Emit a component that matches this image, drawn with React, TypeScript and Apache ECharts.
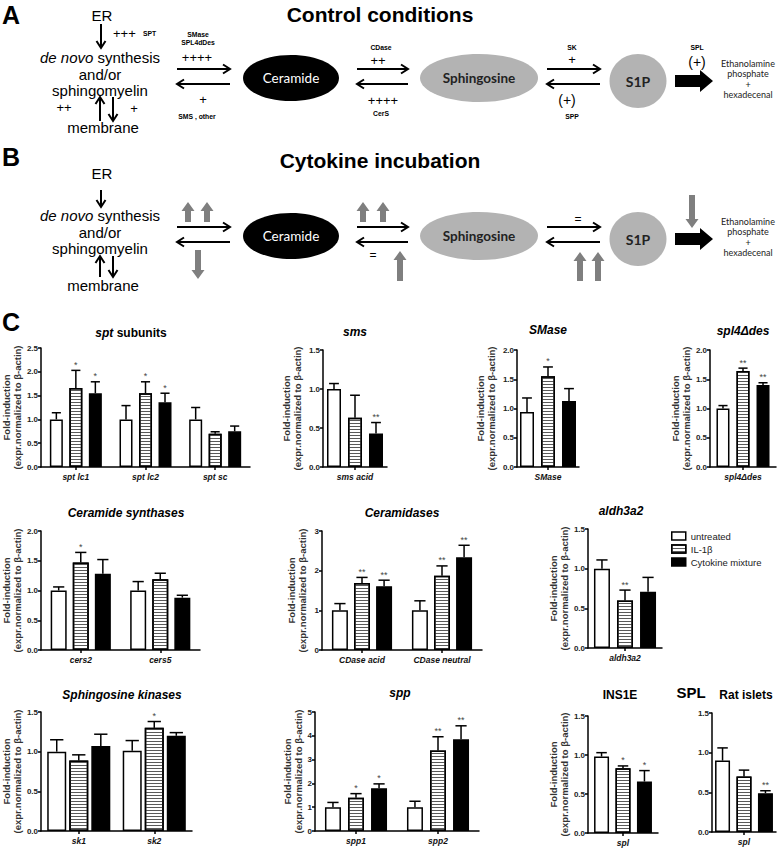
import React, { useEffect, useRef } from "react";
import * as echarts from "echarts";

const SANS = "'Liberation Sans', Arial, sans-serif";
const CAL = "Lato, 'Open Sans', sans-serif";

const groupNames = ["untreated", "IL-1β", "Cytokine mixture"];

// ---- data (rows: untreated, IL-1β, Cytokine mixture) ----
const sptCategories = ["spt lc1", "spt lc2", "spt sc"];
const sptMeans = [[1.0, 1.0, 1.0], [1.66, 1.55, 0.70], [1.55, 1.36, 0.75]];
const sptSems = [[0.14, 0.29, 0.25], [0.37, 0.24, 0.04], [0.24, 0.19, 0.11]];
const sptSig = [["", "", ""], ["*", "*", ""], ["*", "*", ""]];
const sptTicks = [0, 0.5, 1, 1.5, 2, 2.5];

const smsCategories = ["sms acid"];
const smsMeans = [[1.0], [0.63], [0.43]];
const smsSems = [[0.07], [0.29], [0.14]];
const smsSig = [[""], [""], ["**"]];
const smsTicks = [0, 0.5, 1, 1.5];

const smaseCategories = ["SMase"];
const smaseMeans = [[0.94], [1.55], [1.13]];
const smaseSems = [[0.24], [0.16], [0.21]];
const smaseSig = [[""], ["*"], [""]];
const smaseTicks = [0, 0.5, 1, 1.5, 2];

const spl4Categories = ["spl4Δdes"];
const spl4Means = [[1.0], [1.64], [1.40]];
const spl4Sems = [[0.05], [0.05], [0.04]];
const spl4Sig = [[""], ["**"], ["**"]];
const spl4Ticks = [0, 0.5, 1, 1.5, 2];

const cersCategories = ["cers2", "cers5"];
const cersMeans = [[1.0, 1.0], [1.47, 1.19], [1.28, 0.88]];
const cersSems = [[0.06, 0.15], [0.17, 0.10], [0.24, 0.04]];
const cersSig = [["", ""], ["*", ""], ["", ""]];
const cersTicks = [0, 0.5, 1, 1.5, 2];

const cdaseCategories = ["CDase acid", "CDase neutral"];
const cdaseMeans = [[1.0, 1.0], [1.69, 1.87], [1.61, 2.34]];
const cdaseSems = [[0.17, 0.24], [0.14, 0.25], [0.15, 0.30]];
const cdaseSig = [["", ""], ["**", "**"], ["**", "**"]];
const cdaseTicks = [0, 1, 2, 3];

const aldhCategories = ["aldh3a2"];
const aldhMeans = [[1.0], [0.60], [0.71]];
const aldhSems = [[0.11], [0.13], [0.18]];
const aldhSig = [[""], ["**"], [""]];
const aldhTicks = [0, 0.5, 1, 1.5];

const skCategories = ["sk1", "sk2"];
const skMeans = [[1.0, 1.01], [0.89, 1.30], [1.07, 1.20]];
const skSems = [[0.15, 0.13], [0.07, 0.08], [0.15, 0.04]];
const skSig = [["", ""], ["", "*"], ["", ""]];
const skTicks = [0, 0.5, 1, 1.5];

const sppCategories = ["spp1", "spp2"];
const sppMeans = [[1.0, 1.0], [1.40, 3.38], [1.80, 3.85]];
const sppSems = [[0.20, 0.25], [0.17, 0.58], [0.18, 0.57]];
const sppSig = [["", ""], ["*", "**"], ["*", "**"]];
const sppTicks = [0, 1, 2, 3, 4, 5];

const insCategories = ["spl"];
const insMeans = [[0.98], [0.83], [0.66]];
const insSems = [[0.05], [0.03], [0.14]];
const insSig = [[""], ["*"], ["*"]];
const insTicks = [0, 0.5, 1, 1.5];

const ratCategories = ["spl"];
const ratMeans = [[0.90], [0.70], [0.49]];
const ratSems = [[0.16], [0.08], [0.03]];
const ratSig = [[""], [""], ["**"]];
const ratTicks = [0, 0.5, 1, 1.5];

const panels = [
  { key: "spt", title: "{i|spt}{n| subunits}", cats: sptCategories, means: sptMeans, sems: sptSems, sig: sptSig, ticks: sptTicks },
  { key: "sms", title: "{i|sms}", cats: smsCategories, means: smsMeans, sems: smsSems, sig: smsSig, ticks: smsTicks },
  { key: "smase", title: "{i|SMase}", cats: smaseCategories, means: smaseMeans, sems: smaseSems, sig: smaseSig, ticks: smaseTicks },
  { key: "spl4", title: "{i|spl4Δdes}", cats: spl4Categories, means: spl4Means, sems: spl4Sems, sig: spl4Sig, ticks: spl4Ticks },
  { key: "cers", title: "{i|Ceramide synthases}", cats: cersCategories, means: cersMeans, sems: cersSems, sig: cersSig, ticks: cersTicks },
  { key: "cdase", title: "{i|Ceramidases}", cats: cdaseCategories, means: cdaseMeans, sems: cdaseSems, sig: cdaseSig, ticks: cdaseTicks },
  { key: "aldh", title: "{i|aldh3a2}", cats: aldhCategories, means: aldhMeans, sems: aldhSems, sig: aldhSig, ticks: aldhTicks },
  { key: "sk", title: "{i|Sphingosine kinases}", cats: skCategories, means: skMeans, sems: skSems, sig: skSig, ticks: skTicks },
  { key: "spp", title: "{i|spp}", cats: sppCategories, means: sppMeans, sems: sppSems, sig: sppSig, ticks: sppTicks },
  { key: "ins", title: "{n|INS1E}", cats: insCategories, means: insMeans, sems: insSems, sig: insSig, ticks: insTicks },
  { key: "rat", title: "{n|Rat islets}", cats: ratCategories, means: ratMeans, sems: ratSems, sig: ratSig, ticks: ratTicks },
];

// ---- layout (pixels) ----
const layout: Record<string, any> = {
  spt: { left: 40, top: 348, width: 210, height: 119, barWidth: 13, barGap: 0.5, titleX: 131, titleY: 333, nameGap: 18 },
  sms: { left: 323, top: 350, width: 64, height: 117, barWidth: 14, barGap: 0.5, titleX: 355, titleY: 332, nameGap: 20 },
  smase: { left: 517, top: 350, width: 62, height: 117, barWidth: 14, barGap: 0.5, titleX: 548, titleY: 330, nameGap: 20 },
  spl4: { left: 710, top: 350, width: 66, height: 117, barWidth: 13, barGap: 0.54, titleX: 743, titleY: 331, nameGap: 17 },
  cers: { left: 40, top: 531, width: 160, height: 119, barWidth: 16, barGap: 0.38, titleX: 126, titleY: 513, nameGap: 18 },
  cdase: { left: 322, top: 531, width: 160, height: 119, barWidth: 16, barGap: 0.38, titleX: 402, titleY: 513, nameGap: 14 },
  aldh: { left: 588, top: 529, width: 74, height: 119, barWidth: 16, barGap: 0.44, titleX: 621, titleY: 511, nameGap: 15 },
  sk: { left: 40, top: 712, width: 152, height: 119, barWidth: 19, barGap: 0.16, titleX: 122, titleY: 695, nameGap: 18 },
  spp: { left: 315, top: 712, width: 164, height: 119, barWidth: 16, barGap: 0.44, titleX: 400, titleY: 693, nameGap: 11 },
  ins: { left: 588, top: 716, width: 70, height: 117, barWidth: 15, barGap: 0.43, titleX: 620, titleY: 695, nameGap: 15 },
  rat: { left: 712, top: 713, width: 64, height: 119, barWidth: 15, barGap: 0.43, titleX: 746, titleY: 695, nameGap: 0, noName: true },
};

const barStyles: any[] = [
  { color: "#fff", borderColor: "#000", borderWidth: 1.5 },
  {
    color: "#fff", borderColor: "#000", borderWidth: 1.5,
    decal: { symbol: "rect", symbolSize: 1, symbolKeepAspect: false, color: "#5a5a5a", dashArrayX: [8, 0], dashArrayY: [1, 2], rotation: 0 },
  },
  { color: "#000", borderColor: "#000", borderWidth: 1.5 },
];

function txt(x: number, y: number, text: string, o: any = {}) {
  const align = o.align || "center";
  return {
    type: "text", silent: true, z: 50,
    style: {
      text, x, y,
      fill: o.fill || "#000",
      fontSize: o.size || 12,
      fontFamily: o.family || SANS,
      fontWeight: o.weight || "normal",
      fontStyle: o.fstyle || "normal",
      textAlign: align, align,
      textVerticalAlign: "middle", verticalAlign: "middle",
      rich: o.rich,
    },
  };
}

function lineArrow(x1: number, y1: number, x2: number, y2: number, w = 2, hl = 7, hw = 4.5): any[] {
  const len = Math.hypot(x2 - x1, y2 - y1);
  const ux = (x2 - x1) / len, uy = (y2 - y1) / len;
  const px = -uy, py = ux;
  return [
    { type: "line", silent: true, shape: { x1, y1, x2: x2 - ux, y2: y2 - uy }, style: { stroke: "#000", lineWidth: w } },
    {
      type: "polyline", silent: true,
      shape: { points: [[x2 - ux * hl + px * hw, y2 - uy * hl + py * hw], [x2, y2], [x2 - ux * hl - px * hw, y2 - uy * hl - py * hw]] },
      style: { stroke: "#000", lineWidth: w, fill: "none" },
    },
  ];
}

function blockV(cx: number, yTail: number, yHead: number, color = "#7f7f7f", shaftW = 6, headW = 13, headL = 9) {
  const dir = yHead > yTail ? 1 : -1;
  const yb = yHead - dir * headL;
  return {
    type: "polygon", silent: true,
    shape: { points: [[cx - shaftW / 2, yTail], [cx + shaftW / 2, yTail], [cx + shaftW / 2, yb], [cx + headW / 2, yb], [cx, yHead], [cx - headW / 2, yb], [cx - shaftW / 2, yb]] },
    style: { fill: color },
  };
}

function bigArrow(x1: number, x2: number, cy: number) {
  const xb = x2 - 13;
  return {
    type: "polygon", silent: true,
    shape: { points: [[x1, cy - 6], [xb, cy - 6], [xb, cy - 11], [x2, cy], [xb, cy + 11], [xb, cy + 6], [x1, cy + 6]] },
    style: { fill: "#000" },
  };
}

function ellipse(cx: number, cy: number, rx: number, ry: number, fill: string) {
  return { type: "ellipse", silent: true, shape: { cx, cy, rx, ry }, style: { fill } };
}

const novoRich = {
  i: { fontStyle: "italic", fontWeight: "normal", fontSize: 15, fontFamily: SANS, fill: "#000" },
  n: { fontStyle: "normal", fontWeight: "normal", fontSize: 15, fontFamily: SANS, fill: "#000" },
};

function diagram(yOff: number, control: boolean): any[] {
  const els: any[] = [];
  const Y = (v: number) => v + yOff;
  // left block
  els.push(txt(102, Y(15), "ER", { size: 15 }));
  els.push(txt(100, Y(57), "{i|de novo}{n| synthesis}", { size: 15, rich: novoRich }));
  els.push(txt(100, Y(74), "and/or", { size: 15 }));
  els.push(txt(100, Y(90), "sphingomyelin", { size: 15 }));
  els.push(txt(103, Y(127), "membrane", { size: 15 }));
  // ellipses
  els.push(ellipse(291, Y(78), 48, 23, "#000"));
  els.push(txt(291, Y(78), "Ceramide", { size: 13.5, family: CAL, fill: "#fff" }));
  els.push(ellipse(479, Y(78), 59, 24, "#b3b3b3"));
  els.push(txt(479, Y(78), "Sphingosine", { size: 13.5, family: CAL, weight: "bold", fill: "#222" }));
  els.push(ellipse(638, Y(81), 28.5, 27, "#b3b3b3"));
  els.push(txt(638, Y(81), "S1P", { size: 14, family: CAL, weight: "bold", fill: "#222" }));
  // reversible arrows
  [[177, 230], [357, 408], [547, 600]].forEach(([a, b]) => {
    els.push(...lineArrow(a, Y(69), b, Y(69)));
    els.push(...lineArrow(b, Y(84), a, Y(84)));
  });
  els.push(bigArrow(675, 713, Y(81)));
  ["Ethanolamine", "phosphate", "+", "hexadecenal"].forEach((t, i) => {
    els.push(txt(748, Y(63 + i * 10.5), t, { size: 9, family: CAL, fill: "#222" }));
  });
  return els;
}

function buildGraphic(): any[] {
  const g: any[] = [];
  const small = { size: 6.8, weight: "bold" };
  // Panel A
  g.push(txt(2, 15, "A", { size: 25, weight: "bold", align: "left" }));
  g.push(txt(380, 14, "Control conditions", { size: 21, weight: "bold" }));
  g.push(...diagram(0, true));
  g.push(...lineArrow(101, 24, 101, 48));
  g.push(txt(113, 33, "+++", { size: 13, align: "left" }));
  g.push(txt(143, 33, "SPT", { ...small, align: "left" }));
  g.push(txt(64, 107, "++", { size: 13 }));
  g.push(...lineArrow(100, 121, 100, 97));
  g.push(...lineArrow(113, 97, 113, 121));
  g.push(txt(134, 108, "+", { size: 13 }));
  g.push(txt(198, 34, "SMase", small));
  g.push(txt(198, 42, "SPL4dDes", small));
  g.push(txt(197, 57, "++++", { size: 13 }));
  g.push(txt(203, 99, "+", { size: 13 }));
  g.push(txt(197, 116, "SMS , other", small));
  g.push(txt(381, 47, "CDase", small));
  g.push(txt(378, 60, "++", { size: 13 }));
  g.push(txt(383, 100, "++++", { size: 13 }));
  g.push(txt(381, 113, "CerS", small));
  g.push(txt(572, 47, "SK", small));
  g.push(txt(572, 59, "+", { size: 13 }));
  g.push(txt(567, 100, "(+)", { size: 14 }));
  g.push(txt(572, 116, "SPP", small));
  g.push(txt(697, 47, "SPL", small));
  g.push(txt(697, 62, "(+)", { size: 14 }));

  // Panel B
  const o = 158;
  g.push(txt(2, 157, "B", { size: 25, weight: "bold", align: "left" }));
  g.push(txt(380, 160, "Cytokine incubation", { size: 21, weight: "bold" }));
  g.push(...diagram(o, false));
  g.push(...lineArrow(101, 190, 101, 207));
  g.push(...lineArrow(100, 277, 100, 256));
  g.push(...lineArrow(113, 256, 113, 277));
  g.push(blockV(188, 222, 202));
  g.push(blockV(207, 222, 202));
  g.push(blockV(198, 250, 279));
  g.push(blockV(363, 222, 202));
  g.push(blockV(383, 222, 202));
  g.push(txt(373, 255, "=", { size: 12 }));
  g.push(blockV(400, 281, 251));
  g.push(txt(578, 219, "=", { size: 12 }));
  g.push(blockV(580, 281, 252));
  g.push(blockV(598, 281, 252));
  g.push(blockV(692, 195, 228));

  // Panel C
  g.push(txt(2, 322, "C", { size: 25, weight: "bold", align: "left" }));
  const tRich = {
    i: { fontStyle: "italic", fontWeight: "bold", fontSize: 12, fontFamily: SANS, fill: "#000" },
    n: { fontStyle: "normal", fontWeight: "bold", fontSize: 12, fontFamily: SANS, fill: "#000" },
  };
  panels.forEach((p) => {
    const L = layout[p.key];
    g.push(txt(L.titleX, L.titleY, p.title, { size: 12, weight: "bold", rich: tRich }));
  });
  g.push(txt(691, 692, "SPL", { size: 15, weight: "bold" }));
  return g;
}

function buildOption(): any {
  const grid: any[] = [], xAxis: any[] = [], yAxis: any[] = [], series: any[] = [];
  const axisLine = { show: true, lineStyle: { color: "#000", width: 1.5 } };
  const axisTick = { show: true, length: 3, lineStyle: { color: "#000", width: 1.5 } };
  panels.forEach((p, gi) => {
    const L = layout[p.key];
    const step = p.ticks[1] - p.ticks[0];
    const dec = step < 1 ? 1 : 0;
    grid.push({ left: L.left, top: L.top, width: L.width, height: L.height });
    xAxis.push({
      gridIndex: gi, type: "category", data: p.cats,
      axisLine, axisTick: { ...axisTick, alignWithLabel: true },
      axisLabel: { fontFamily: SANS, fontSize: 8.5, fontWeight: "bold", fontStyle: "italic", color: "#111", margin: 5, interval: 0 },
      splitLine: { show: false },
    });
    yAxis.push({
      gridIndex: gi, type: "value",
      min: p.ticks[0], max: p.ticks[p.ticks.length - 1], interval: step,
      axisLine, axisTick,
      splitLine: { show: false },
      axisLabel: { fontFamily: SANS, fontSize: 8, fontWeight: "bold", color: "#222", margin: 3, formatter: (v: number) => v.toFixed(dec) },
      name: L.noName ? "" : "Fold-induction\n(expr.normalized to β-actin)",
      nameLocation: "middle", nameRotate: 90, nameGap: L.nameGap,
      nameTextStyle: { fontFamily: SANS, fontSize: 9.5, fontWeight: "bold", color: "#333", lineHeight: 11 },
    });
    groupNames.forEach((g, k) => {
      series.push({
        type: "bar", name: g, xAxisIndex: gi, yAxisIndex: gi,
        data: p.means[k], barWidth: L.barWidth, barGap: `${Math.round(L.barGap * 100)}%`,
        itemStyle: barStyles[k], silent: true,
      });
    });
    const errData: number[][] = [];
    groupNames.forEach((_, k) => p.cats.forEach((_c, c) => errData.push([c, p.means[k][c], p.sems[k][c], k])));
    series.push({
      type: "custom", name: "err-" + p.key, xAxisIndex: gi, yAxisIndex: gi, z: 10, silent: true, clip: false,
      encode: { x: 0, y: 1 },
      data: errData,
      renderItem: (_params: any, api: any) => {
        const c = api.value(0), m = api.value(1), s = api.value(2), k = api.value(3);
        const base = api.coord([c, m]);
        const top = api.coord([c, m + s]);
        const x = base[0] + (k - 1) * L.barWidth * (1 + L.barGap);
        const half = L.barWidth * 0.35;
        const children: any[] = [
          { type: "line", shape: { x1: x, y1: base[1], x2: x, y2: top[1] }, style: { stroke: "#000", lineWidth: 1.5 } },
          { type: "line", shape: { x1: x - half, y1: top[1], x2: x + half, y2: top[1] }, style: { stroke: "#000", lineWidth: 1.5 } },
        ];
        const sig = p.sig[k][c];
        if (sig) {
          children.push({
            type: "text",
            style: { text: sig, x, y: top[1] - 1, align: "center", verticalAlign: "bottom", textAlign: "center", textVerticalAlign: "bottom", fontSize: 9, fontFamily: SANS, fill: "#444" },
          });
        }
        return { type: "group", children };
      },
    });
  });
  return {
    animation: false,
    backgroundColor: "#fff",
    textStyle: { fontFamily: SANS },
    grid, xAxis, yAxis, series,
    legend: {
      data: groupNames, left: 671, top: 531, orient: "vertical", padding: 0,
      itemWidth: 14, itemHeight: 8, itemGap: 3, icon: "rect", selectedMode: false,
      itemStyle: { borderWidth: 1.5, borderColor: "#000" },
      textStyle: { fontSize: 9.5, fontFamily: SANS, color: "#222" },
    },
    graphic: buildGraphic(),
  };
}

export default function App() {
  const ref = useRef<HTMLDivElement>(null);
  useEffect(() => {
    const chart = echarts.init(ref.current as HTMLDivElement, null, { renderer: "svg", width: 778, height: 848 });
    chart.setOption(buildOption());
    return () => chart.dispose();
  }, []);
  return <div ref={ref} style={{ position: "absolute", left: 0, top: 0, width: 778, height: 848, background: "#fff" }} />;
}
